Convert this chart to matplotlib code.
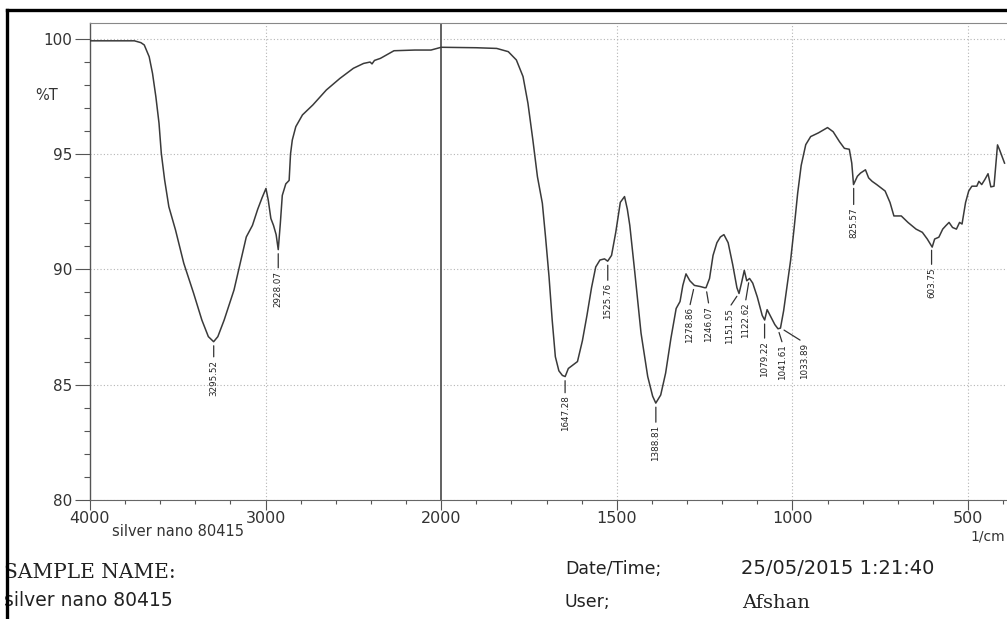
import numpy as np
import matplotlib
matplotlib.use("Agg")
import matplotlib.pyplot as plt
from matplotlib.ticker import FixedLocator, MultipleLocator, FuncFormatter
from matplotlib.lines import Line2D

# spectrum (wavenumber in 1/cm, transmittance in %T)
wavenumber = [
    4000, 3900, 3800, 3747, 3710, 3691, 3663, 3644, 3625, 3607, 3594, 3575,
    3551, 3513, 3466, 3410, 3363, 3326, 3296, 3272, 3236, 3180, 3145, 3110,
    3075, 3045, 3020, 2998, 2985, 2970, 2955, 2940, 2928, 2916, 2905, 2885,
    2866, 2858, 2848, 2828, 2790, 2731, 2654, 2577, 2500, 2442, 2405, 2394,
    2380, 2346, 2269, 2150, 2058, 2000, 1900, 1842, 1809, 1786, 1767, 1753,
    1739, 1726, 1712, 1703, 1693, 1684, 1675, 1665, 1655, 1647, 1638, 1625,
    1612, 1598, 1585, 1572, 1560, 1548, 1535, 1526, 1515, 1503, 1490, 1478,
    1470, 1463, 1449, 1431, 1412, 1398, 1389, 1375, 1361, 1346, 1331, 1320,
    1312, 1303, 1292, 1279, 1262, 1250, 1246, 1236, 1226, 1215, 1205, 1195,
    1183, 1170, 1158, 1152, 1145, 1137, 1130, 1122, 1113, 1100, 1086, 1079,
    1072, 1062, 1050, 1041, 1034, 1025, 1015, 1005, 995, 985, 975, 962,
    948, 926, 900, 884, 866, 852, 838, 831, 826, 815, 806, 792,
    783, 773, 760, 736, 722, 711, 690, 671, 648, 630, 616, 602,
    595, 583, 572, 563, 554, 544, 533, 524, 517, 507, 498, 489,
    475, 469, 461, 452, 443, 435, 426, 416, 410, 396,
]
transmittance = [
    99.9, 99.9, 99.9, 99.9, 99.82, 99.72, 99.21, 98.49, 97.48, 96.33, 95.03, 93.87,
    92.71, 91.70, 90.26, 88.96, 87.80, 87.08, 86.86, 87.08, 87.80, 89.1, 90.26, 91.4,
    91.9, 92.6, 93.1, 93.5, 93.0, 92.2, 91.9, 91.5, 90.85, 92.0, 93.2, 93.7,
    93.85, 95.0, 95.6, 96.18, 96.69, 97.12, 97.77, 98.27, 98.71, 98.92, 98.98, 98.9,
    99.05, 99.14, 99.47, 99.5, 99.5, 99.62, 99.6, 99.57, 99.43, 99.07, 98.35, 97.19,
    95.6, 94.01, 92.86, 91.41, 89.68, 87.8, 86.21, 85.6, 85.4, 85.35, 85.7, 85.85,
    86.0, 86.9, 88.0, 89.2, 90.1, 90.4, 90.45, 90.35, 90.6, 91.6, 92.9, 93.15,
    92.6, 91.9, 89.9, 87.23, 85.35, 84.5, 84.2, 84.55, 85.5, 87.0, 88.3, 88.6,
    89.3, 89.8, 89.5, 89.3, 89.25, 89.2, 89.2, 89.6, 90.6, 91.15, 91.4, 91.5,
    91.15, 90.2, 89.2, 88.95, 89.4, 89.95, 89.5, 89.6, 89.4, 88.8, 88.0, 87.8,
    88.25, 87.95, 87.6, 87.42, 87.45, 88.2, 89.3, 90.4, 91.8, 93.3, 94.5, 95.4,
    95.75, 95.91, 96.14, 95.96, 95.53, 95.24, 95.2, 94.6, 93.67, 94.03, 94.17, 94.31,
    93.96, 93.81, 93.67, 93.39, 92.89, 92.31, 92.31, 92.03, 91.74, 91.6, 91.31, 90.96,
    91.31, 91.39, 91.74, 91.89, 92.03, 91.81, 91.74, 92.03, 91.96, 92.89, 93.39, 93.6,
    93.6, 93.81, 93.67, 93.89, 94.14, 93.57, 93.6, 95.39, 95.17, 94.6,
]

peak_wavenumbers = [3295.52, 2928.07, 1647.28, 1525.76, 1388.81, 1278.86, 1246.07,
                    1151.55, 1122.62, 1079.22, 1041.61, 1033.89, 825.57, 603.75]
peak_texts = ["3295.52", "2928.07", "1647.28", "1525.76", "1388.81", "1278.86", "1246.07",
              "1151.55", "1122.62", "1079.22", "1041.61", "1033.89", "825.57", "603.75"]

x_major = [4000, 3000, 2000, 1500, 1000, 500]
x_minor = [3800, 3600, 3400, 3200, 2800, 2600, 2400, 2200,
           1900, 1800, 1700, 1600, 1400, 1300, 1200, 1100,
           900, 800, 700, 600, 400]
y_major = [80, 85, 90, 95, 100]
x_grid = [3000, 1500, 1000, 500]

sample_name = "silver nano 80415"
date_time = "25/05/2015 1:21:40"
user_name = "Afshan"

# label placement (pixel offsets of the label top from the peak)
label_offsets = {
    "3295.52": (0, -18), "2928.07": (0, -21), "1647.28": (0, -19),
    "1525.76": (0, -22), "1388.81": (0, -22), "1278.86": (-5, -22),
    "1246.07": (3, -18), "1151.55": (-10, -15), "1122.62": (-4, -24),
    "1079.22": (0, -21), "1041.61": (5, -16), "1033.89": (24, -15),
    "825.57": (0, -23), "603.75": (0, -21),
}


def forward(w):
    # the instrument doubles the scale below 2000 1/cm
    w = np.asarray(w, dtype=float)
    return np.where(w >= 2000, w, 2 * w - 2000)


def inverse(u):
    u = np.asarray(u, dtype=float)
    return np.where(u >= 2000, u, (u + 2000) / 2)


def main():
    W, H = 1007, 619
    fig = plt.figure(figsize=(W / 100, H / 100), dpi=100)
    fig.patch.set_facecolor("white")

    left, right, top, bottom = 90, 1008.4, 22.7, 500
    ax = fig.add_axes([left / W, 1 - bottom / H, (right - left) / W, (bottom - top) / H])

    ax.set_xscale("function", functions=(forward, inverse))
    ax.set_xlim(4000, 385)
    ax.set_ylim(80, 100.685)

    ax.plot(wavenumber, transmittance, color="#3a3a3a", lw=1.1, zorder=3)
    ax.axvline(2000, color="#555555", lw=1.3, zorder=2)

    for x in x_grid:
        ax.axvline(x, color="#b5b5b5", lw=0.8, ls=(0, (1, 2)), zorder=1)
    for y in y_major:
        ax.axhline(y, color="#b5b5b5", lw=0.8, ls=(0, (1, 2)), zorder=1)

    ax.xaxis.set_major_locator(FixedLocator(x_major))
    ax.xaxis.set_minor_locator(FixedLocator(x_minor))
    ax.xaxis.set_major_formatter(FuncFormatter(lambda v, p: f"{v:.0f}"))
    ax.yaxis.set_major_locator(FixedLocator(y_major))
    ax.yaxis.set_minor_locator(MultipleLocator(1))

    ax.tick_params(axis="y", which="major", direction="out", length=11, width=0.8,
                   pad=2, labelsize=11, colors="#555555", labelcolor="#333333")
    ax.tick_params(axis="y", which="minor", direction="out", length=4.5, width=0.8, colors="#555555")
    ax.tick_params(axis="x", which="major", direction="out", length=7, width=0.8,
                   pad=1, labelsize=11.5, colors="#555555", labelcolor="#333333")
    ax.tick_params(axis="x", which="minor", direction="out", length=3, width=0.8, colors="#555555")

    ax.spines["right"].set_visible(False)
    ax.spines["left"].set_color("#555555")
    ax.spines["left"].set_linewidth(1.0)
    ax.spines["top"].set_color("#888888")
    ax.spines["top"].set_linewidth(0.8)
    ax.spines["bottom"].set_color("#666666")
    ax.spines["bottom"].set_linewidth(0.8)

    wn_rev = np.array(wavenumber[::-1], dtype=float)
    tr_rev = np.array(transmittance[::-1], dtype=float)
    for txt, w in zip(peak_texts, peak_wavenumbers):
        t = np.interp(w, wn_rev, tr_rev)
        dx, dy = label_offsets[txt]
        ax.annotate(txt, xy=(w, t), xytext=(dx, dy), textcoords="offset pixels",
                    rotation=90, ha="center", va="top", fontsize=6.3, color="#222222",
                    arrowprops=dict(arrowstyle="-", lw=0.9, color="#333333",
                                    shrinkA=0, shrinkB=3, relpos=(0.5, 1.0)))

    fig.text(47 / W, 1 - 95 / H, "%T", ha="center", va="center", fontsize=10.5, color="#333333")
    fig.text(178 / W, 1 - 531.7 / H, sample_name, ha="center", va="center",
             fontsize=10.5, color="#333333")
    fig.text(1005 / W, 1 - 537 / H, "1/cm", ha="right", va="center", fontsize=10, color="#333333")

    fig.text(4 / W, 1 - 573 / H, "SAMPLE NAME:", ha="left", va="center",
             fontsize=14.5, family="DejaVu Serif", color="#222222")
    fig.text(4 / W, 1 - 601 / H, sample_name, ha="left", va="center", fontsize=13.5, color="#222222")
    fig.text(565 / W, 1 - 569 / H, "Date/Time;", ha="left", va="center", fontsize=12.5, color="#222222")
    fig.text(741 / W, 1 - 569 / H, date_time, ha="left", va="center", fontsize=14, color="#222222")
    fig.text(565 / W, 1 - 602 / H, "User;", ha="left", va="center", fontsize=12.5, color="#222222")
    fig.text(742 / W, 1 - 603 / H, user_name, ha="left", va="center", fontsize=14,
             family="DejaVu Serif", color="#222222")

    # scanned page border
    fig.add_artist(Line2D([6.7 / W, 6.7 / W], [0, 1 - 10 / H], transform=fig.transFigure,
                          lw=2.4, color="black", zorder=10))
    fig.add_artist(Line2D([6.7 / W, 1], [1 - 10 / H, 1 - 10 / H], transform=fig.transFigure,
                          lw=2.4, color="black", zorder=10))

    fig.savefig("out.png", dpi=100)


if __name__ == "__main__":
    main()
